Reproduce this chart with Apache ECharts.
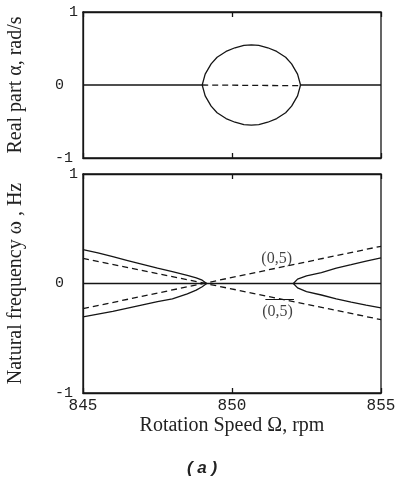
<!DOCTYPE html>
<html><head><meta charset="utf-8">
<script src="https://cdn.jsdelivr.net/npm/echarts@6/dist/echarts.min.js"></script>
<style>html,body{margin:0;padding:0;background:#fff}#c{width:395px;height:478px}</style>
</head><body><div id="c"></div>
<script>
// ---- data ----
const xTicks = [845, 850, 855];
const yTicks = [-1, 0, 1];

// Top plot: real part alpha (rad/s)
const circleSpeed = [849.0, 849.1, 849.3, 849.5, 849.8, 850.1, 850.4, 850.65, 850.9, 851.2, 851.5, 851.8, 852.0, 852.2, 852.3];
const alphaUpper = [0, 0.15, 0.29, 0.38, 0.46, 0.51, 0.544, 0.55, 0.544, 0.51, 0.46, 0.38, 0.29, 0.15, 0];
const alphaLower = [0, -0.15, -0.29, -0.38, -0.46, -0.51, -0.544, -0.55, -0.544, -0.51, -0.46, -0.38, -0.29, -0.15, 0];
const alphaSolidLeftSpeed = [845, 849.0];
const alphaSolidLeft = [0, 0];
const alphaSolidRightSpeed = [852.3, 855];
const alphaSolidRight = [0, 0];
const alphaDashedSpeed = [849.0, 852.3];
const alphaDashed = [0, -0.01];

// Bottom plot: natural frequency omega (Hz)
const freqZeroSpeed = [845, 855];
const freqZero = [0, 0];
const dashSpeed = [845, 855];
const dashA = [0.23, -0.33];
const dashB = [-0.23, 0.34];
const leftSpeed = [845, 845.5, 846, 846.5, 847, 847.5, 848, 848.5, 848.8, 849.0, 849.15];
const leftUpper = [0.31, 0.28, 0.245, 0.21, 0.175, 0.14, 0.108, 0.075, 0.052, 0.03, 0];
const leftLower = [-0.305, -0.28, -0.255, -0.225, -0.195, -0.165, -0.14, -0.095, -0.06, -0.03, 0];
const rightSpeed = [852.06, 852.2, 852.5, 853, 853.5, 854, 854.5, 855];
const rightUpper = [0, 0.04, 0.07, 0.10, 0.14, 0.172, 0.205, 0.235];
const rightLower = [0, -0.04, -0.075, -0.105, -0.14, -0.17, -0.197, -0.222];

const labelText = '(0,5)';
const labelPositions = [[851.5, 0.228], [851.53, -0.256]];
const overlineFrom = [851.12, -0.142];
const overlineTo = [852.08, -0.142];

// ---- chart ----
const zip = (xs, ys) => xs.map((x, i) => [x, ys[i]]);
const INK = '#151515';
const LW = 1.3;
const mono = 'Liberation Mono';
const serif = 'Liberation Serif';

function solid(data, xi, yi) {
  return { type: 'line', data, xAxisIndex: xi, yAxisIndex: yi, symbol: 'none', silent: true,
    lineStyle: { color: INK, width: LW }, z: 3 };
}
function dashed(data, xi, yi) {
  return { type: 'line', data, xAxisIndex: xi, yAxisIndex: yi, symbol: 'none', silent: true,
    lineStyle: { color: INK, width: LW, type: [6, 4] }, z: 3 };
}

function xAx(gi, pos, showLabel) {
  return { type: 'value', gridIndex: gi, position: pos, min: 845, max: 855, interval: 5,
    axisLine: { show: true, onZero: false, lineStyle: { color: INK, width: LW } },
    axisTick: { show: true, inside: true, length: 5, lineStyle: { color: INK, width: LW } },
    axisLabel: { show: showLabel, fontFamily: mono, fontSize: 16, color: '#222', margin: 5 },
    splitLine: { show: false } };
}
function yRich() {
  return {
    p: { fontFamily: mono, fontSize: 15, color: '#222', padding: [0, 0, 0, 0] },
    z: { fontFamily: mono, fontSize: 15, color: '#222', padding: [0, 14, 0, 0] },
    m: { fontFamily: mono, fontSize: 15, color: '#222', padding: [0, 5, 0, 0] }
  };
}
function yAx(gi, name) {
  return { type: 'value', gridIndex: gi, min: -1, max: 1, interval: 1,
    name, nameLocation: 'middle', nameGap: 57,
    nameTextStyle: { fontFamily: serif, fontSize: 20, color: '#222' },
    axisLine: { show: true, onZero: false, lineStyle: { color: INK, width: LW } },
    axisTick: { show: false },
    axisLabel: { margin: 5, formatter: v => v === 0 ? '{z|0}' : (v < 0 ? '{m|-1}' : '{p|1}'), rich: yRich() },
    splitLine: { show: false } };
}

const chart = echarts.init(document.getElementById('c'));
const xBottom = xAx(1, 'bottom', true);
xBottom.name = 'Rotation Speed Ω, rpm';
xBottom.nameLocation = 'middle';
xBottom.nameGap = 23;
xBottom.nameTextStyle = { fontFamily: serif, fontSize: 20, color: '#222' };

chart.setOption({
  animation: false,
  backgroundColor: '#fff',
  grid: [
    { left: 83, top: 12, width: 298, height: 146, show: true, borderColor: INK, borderWidth: LW, containLabel: false, outerBoundsMode: 'none' },
    { left: 83, top: 174, width: 298, height: 219, show: true, borderColor: INK, borderWidth: LW, containLabel: false, outerBoundsMode: 'none' }
  ],
  title: { text: '( a )', left: 197, top: 455, textAlign: 'center',
    textStyle: { fontFamily: 'Liberation Sans', fontStyle: 'italic', fontWeight: 'bold', fontSize: 17, color: '#222' } },
  xAxis: [xAx(0, 'bottom', false), xAx(0, 'top', false), xBottom, xAx(1, 'top', false)],
  yAxis: [yAx(0, 'Real part α, rad/s'), yAx(1, 'Natural frequency ω , Hz')],
  series: [
    solid(zip(alphaSolidLeftSpeed, alphaSolidLeft), 0, 0),
    solid(zip(alphaSolidRightSpeed, alphaSolidRight), 0, 0),
    dashed(zip(alphaDashedSpeed, alphaDashed), 0, 0),
    solid(zip(circleSpeed, alphaUpper), 0, 0),
    solid(zip(circleSpeed, alphaLower), 0, 0),

    solid(zip(freqZeroSpeed, freqZero), 2, 1),
    dashed(zip(dashSpeed, dashA), 2, 1),
    Object.assign(dashed(zip(dashSpeed, dashB), 2, 1), {
      markLine: { symbol: 'none', silent: true, label: { show: false },
        lineStyle: { color: INK, width: 1, type: 'solid' },
        data: [[{ coord: overlineFrom }, { coord: overlineTo }]] }
    }),
    solid(zip(leftSpeed, leftUpper), 2, 1),
    solid(zip(leftSpeed, leftLower), 2, 1),
    solid(zip(rightSpeed, rightUpper), 2, 1),
    solid(zip(rightSpeed, rightLower), 2, 1),
    { type: 'scatter', xAxisIndex: 2, yAxisIndex: 1, data: labelPositions, symbolSize: 1, silent: true,
      itemStyle: { color: 'rgba(0,0,0,0)' }, z: 5,
      label: { show: true, position: 'inside', formatter: labelText, fontFamily: serif, fontSize: 16, color: '#111' } }
  ]
});
</script></body></html>
